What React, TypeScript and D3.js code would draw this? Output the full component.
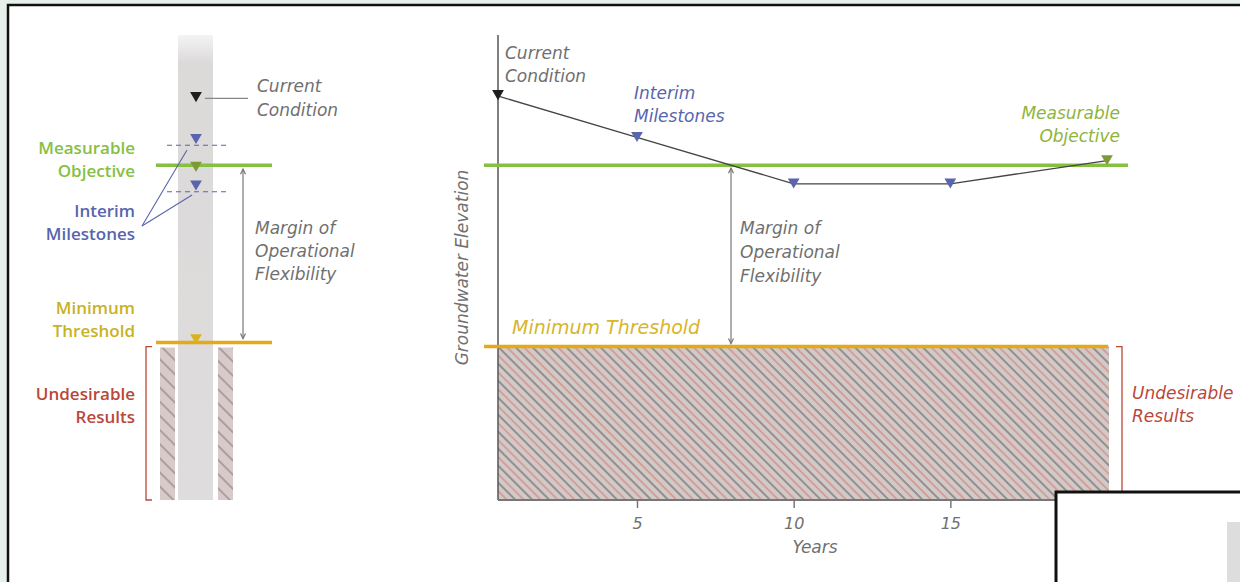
import * as d3 from "d3";
import { useRef, useEffect } from "react";

// groundwater elevation path (arbitrary elevation units, 0-100)
const years = [0.5, 5, 10, 15, 20];
const elevation = [87, 78, 68, 68, 73];
const pointKinds = ["current", "milestone", "milestone", "milestone", "objective"];
const measurableObjective = 72;
const minimumThreshold = 33;
const xTicks = [5, 10, 15];
// well diagram markers
const wellLevels = [87, 78, 72, 68, 33];
const wellKinds = ["current", "milestone", "objective", "milestone", "threshold"];

const GREEN = "#86c043";
const YELLOW = "#e3a917";
const BLUE = "#5965ad";
const RED = "#b9473a";
const GREY_TXT = "#707070";
const kindColor: Record<string, string> = {
  current: "#1e1e1e",
  milestone: BLUE,
  objective: "#7e9a35",
  threshold: "#d8b31c",
};

const italic = { fontFamily: "'DejaVu Sans', sans-serif", fontWeight: 200, fontStyle: "italic", fontSize: 17, fill: GREY_TXT } as const;
const bold = { fontFamily: "'Open Sans', Lato, sans-serif", fontWeight: 600, fontSize: 17, textAnchor: "end" } as const;

export default function App() {
  const gx = useRef<SVGGElement>(null);

  const x = d3.scaleLinear().domain([0.5, 20]).range([496, 1107]);
  const y = d3.scaleLinear().domain([0, 100]).range([500, 35]);

  const line = d3.line<number>()
    .x((d, i) => x(years[i]))
    .y((d) => y(d));

  const tri = d3.symbol(d3.symbolTriangle, 60)();

  // year where the path first drops through the objective
  const crossYear = years[1] + ((elevation[1] - measurableObjective) / (elevation[1] - elevation[2])) * (years[2] - years[1]);

  useEffect(() => {
    const g = d3.select(gx.current);
    g.call(d3.axisBottom(x).tickValues(xTicks).tickSize(8).tickSizeOuter(0).tickPadding(10));
    g.select(".domain").remove();
    g.selectAll(".tick line").attr("stroke", "#777").attr("stroke-width", 1.5);
    g.selectAll(".tick text")
      .attr("fill", GREY_TXT)
      .style("font-family", "'DejaVu Sans', sans-serif")
      .style("font-weight", "200")
      .style("font-style", "italic")
      .style("font-size", "16px");
  }, [x]);

  const wellX = 196;
  const arrow = (xx: number, y1: number, y2: number, key: string) => (
    <g key={key} stroke="#777" strokeWidth={1.2} fill="none">
      <line x1={xx} x2={xx} y1={y1} y2={y2} />
      <path d={`M${xx - 2.5},${y1 + 5}L${xx},${y1}L${xx + 2.5},${y1 + 5}`} />
      <path d={`M${xx - 2.5},${y2 - 5}L${xx},${y2}L${xx + 2.5},${y2 - 5}`} />
    </g>
  );

  return (
    <svg width={1240} height={582} style={{ position: "absolute", left: 0, top: 0 }}>
      <defs>
        <pattern id="hatch" width={12} height={12} patternUnits="userSpaceOnUse" patternTransform="rotate(45)">
          <rect width={12} height={12} fill="#d2cac9" />
          <line x1={0} x2={12} y1={1} y2={1} stroke="#4a4444" strokeWidth={0.9} />
          <line x1={0} x2={12} y1={7} y2={7} stroke="#d65d4e" strokeWidth={0.8} />
        </pattern>
        <pattern id="hatchWell" width={10} height={10} patternUnits="userSpaceOnUse" patternTransform="rotate(45)">
          <rect width={10} height={10} fill="#d9caca" />
          <line x1={0} x2={10} y1={1} y2={1} stroke="#6a5c5c" strokeWidth={0.8} />
        </pattern>
        <linearGradient id="colFade" x1="0" x2="0" y1="0" y2="1">
          <stop offset="0" stopColor="#dcd9d9" stopOpacity={0.3} />
          <stop offset="0.06" stopColor="#dcd9d9" stopOpacity={1} />
          <stop offset="1" stopColor="#dedcdc" stopOpacity={1} />
        </linearGradient>
      </defs>

      {/* screenshot frame */}
      <rect width={1240} height={582} fill="#e8f0ec" />
      <rect x={8} y={5} width={1250} height={600} fill="#fff" stroke="#111" strokeWidth={2.5} />

      {/* ---------- well diagram ---------- */}
      <rect x={178} y={35} width={35} height={465} fill="url(#colFade)" />
      <rect x={160} y={y(minimumThreshold) + 1} width={15} height={y(0) - y(minimumThreshold) - 1} fill="url(#hatchWell)" />
      <rect x={218} y={y(minimumThreshold) + 1} width={15} height={y(0) - y(minimumThreshold) - 1} fill="url(#hatchWell)" />

      {/* dashed milestone levels */}
      {wellLevels.map((v, i) => wellKinds[i] === "milestone" ? (
        <line key={"d" + i} x1={167} x2={228} y1={y(v) + 8} y2={y(v) + 8} stroke={BLUE} strokeDasharray="5,4" strokeWidth={1.1} />
      ) : null)}
      <line x1={156} x2={272} y1={y(measurableObjective)} y2={y(measurableObjective)} stroke={GREEN} strokeWidth={3.5} />
      <line x1={156} x2={272} y1={y(minimumThreshold) - 4} y2={y(minimumThreshold) - 4} stroke={YELLOW} strokeWidth={3.5} />
      {wellLevels.map((v, i) => (
        <path key={"w" + i} d={tri} transform={`translate(${wellX},${y(v) + (wellKinds[i] === "threshold" ? -9 : 0)}) rotate(180)`} fill={kindColor[wellKinds[i]]} />
      ))}
      <line x1={205} x2={248} y1={y(elevation[0]) + 3} y2={y(elevation[0]) + 3} stroke="#888" strokeWidth={1.2} />
      <text x={257} y={92} {...italic}>Current</text>
      <text x={257} y={116} {...italic}>Condition</text>

      {/* pointer lines to milestones */}
      <g stroke={BLUE} strokeWidth={1.1}>
        <line x1={142} x2={187} y1={226} y2={150} />
        <line x1={142} x2={192} y1={226} y2={195} />
      </g>
      <text x={135} y={154} fill={GREEN} {...bold}>Measurable</text>
      <text x={135} y={177} fill={GREEN} {...bold}>Objective</text>
      <text x={135} y={217} fill={BLUE} {...bold}>Interim</text>
      <text x={135} y={240} fill={BLUE} {...bold}>Milestones</text>
      <text x={135} y={314} fill="#c9b21f" {...bold}>Minimum</text>
      <text x={135} y={337} fill="#c9b21f" {...bold}>Threshold</text>
      <text x={135} y={400} fill={RED} {...bold}>Undesirable</text>
      <text x={135} y={423} fill={RED} {...bold}>Results</text>
      <path d={`M152,${y(minimumThreshold)}H146V500H152`} fill="none" stroke={RED} strokeWidth={1.3} />

      {arrow(243, y(measurableObjective) + 4, y(minimumThreshold) - 8, "wa")}
      <text x={255} y={234} {...italic}>Margin of</text>
      <text x={255} y={257} {...italic}>Operational</text>
      <text x={255} y={280} {...italic}>Flexibility</text>

      {/* ---------- time chart ---------- */}
      <rect x={x(0.5) + 2} y={y(minimumThreshold)} width={x(20) - x(0.5)} height={y(0) - y(minimumThreshold)} fill="url(#hatch)" />
      <line x1={498} x2={498} y1={35} y2={y(0)} stroke="#555" strokeWidth={1.5} />
      <line x1={498} x2={x(20) + 1} y1={y(0)} y2={y(0)} stroke="#777" strokeWidth={2} />
      <g ref={gx} transform={`translate(0,${y(0)})`} />
      <line x1={484} x2={1128} y1={y(measurableObjective)} y2={y(measurableObjective)} stroke={GREEN} strokeWidth={3.5} />
      <line x1={484} x2={x(20) + 1} y1={y(minimumThreshold)} y2={y(minimumThreshold)} stroke={YELLOW} strokeWidth={3.5} />

      <path d={line(elevation) ?? ""} fill="none" stroke="#444" strokeWidth={1.3} />
      {elevation.map((v, i) => (
        <path key={"p" + i} d={tri} transform={`translate(${x(years[i]) + (i === 0 ? 2 : 0)},${y(v) - 2}) rotate(180)`} fill={kindColor[pointKinds[i]]} />
      ))}

      {arrow(x(crossYear), y(measurableObjective) + 3, y(minimumThreshold) - 3, "ca")}

      <text x={505} y={59} {...italic}>Current</text>
      <text x={505} y={82} {...italic}>Condition</text>
      <text x={634} y={99} {...italic} fill={BLUE}>Interim</text>
      <text x={634} y={122} {...italic} fill={BLUE}>Milestones</text>
      <text x={1120} y={119} {...italic} fill="#8fb43a" textAnchor="end">Measurable</text>
      <text x={1120} y={142} {...italic} fill="#8fb43a" textAnchor="end">Objective</text>
      <text x={740} y={234} {...italic}>Margin of</text>
      <text x={740} y={258} {...italic}>Operational</text>
      <text x={740} y={282} {...italic}>Flexibility</text>
      <text x={512} y={334} {...italic} fontSize={19} fill="#d8b52a">Minimum Threshold</text>
      <path d={`M1116,${y(minimumThreshold)}H1122V500H1116`} fill="none" stroke={RED} strokeWidth={1.3} />
      <text x={1132} y={399} {...italic} fill={RED}>Undesirable</text>
      <text x={1132} y={422} {...italic} fill={RED}>Results</text>
      <text transform={`translate(468,${y(50)}) rotate(-90)`} textAnchor="middle" {...italic}>Groundwater Elevation</text>
      <text x={815} y={553} textAnchor="middle" {...italic}>Years</text>

      {/* overlapping window in the corner of the screenshot */}
      <rect x={1056} y={492} width={220} height={120} fill="#fff" stroke="#111" strokeWidth={3} />
      <rect x={1227} y={522} width={13} height={60} fill="#dedddd" />
    </svg>
  );
}
